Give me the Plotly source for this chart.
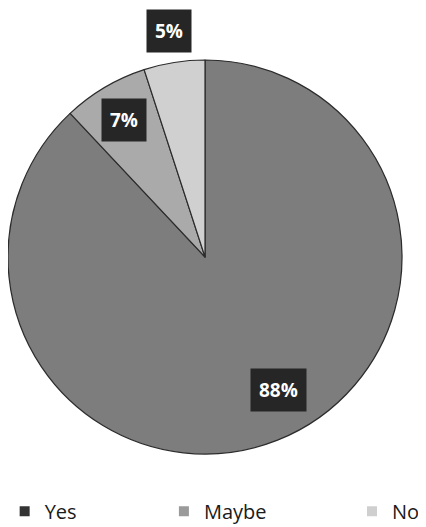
import math
import plotly.graph_objects as go

categories = ["Yes", "Maybe", "No"]
values = [88, 7, 5]
pct_labels = ["88%", "7%", "5%"]
colors = ["#7d7d7d", "#aaaaaa", "#d0d0d0"]
legend_colors = ["#333333", "#9a9a9a", "#cfcfcf"]
label_radius = [0.77, 0.81, 1.16]
label_angle_shift = [-7.2, 0.0, 0.0]   # degrees, label placement tweak
legend_x = [-0.008, 0.373, 0.823]

# page body has an 8px margin, so figure is sized to fit the 426x527 window
W, H = 418, 519
# pie domain (square in pixels): x 0..394, y 52..446 from top of figure
dom_x = [0 / W, 394 / W]
dom_y = [(H - 446) / H, (H - 52) / H]

fig = go.Figure(go.Pie(
    labels=categories,
    values=values,
    sort=False,
    direction="clockwise",
    rotation=0,
    textinfo="none",
    hoverinfo="label+percent",
    showlegend=False,
    marker=dict(colors=colors, line=dict(color="#2b2b2b", width=1.2)),
    domain=dict(x=dom_x, y=dom_y),
))

legend_font = dict(family="Open Sans, Liberation Sans, sans-serif", size=20, color="#1a1a1a")
layout_legends = {}
for i, (cat, col, lx) in enumerate(zip(categories, legend_colors, legend_x)):
    key = "legend" if i == 0 else f"legend{i + 1}"
    fig.add_trace(go.Scatter(
        x=[None], y=[None], mode="markers", name=cat,
        marker=dict(symbol="square", size=10, color=col),
        legend=key, showlegend=True, hoverinfo="skip",
    ))
    layout_legends[key] = dict(
        x=lx, xanchor="left", y=0.068, yanchor="top",
        font=legend_font, bgcolor="rgba(0,0,0,0)",
        itemwidth=30, tracegroupgap=0,
    )

cx = (dom_x[0] + dom_x[1]) / 2
cy = (dom_y[0] + dom_y[1]) / 2
rx = (dom_x[1] - dom_x[0]) / 2
ry = (dom_y[1] - dom_y[0]) / 2
total = sum(values)
cum = 0
annotations = []
for v, lab, rf, sh in zip(values, pct_labels, label_radius, label_angle_shift):
    mid = (cum + v / 2) / total * 2 * math.pi + math.radians(sh)
    cum += v
    annotations.append(dict(
        x=cx + rf * rx * math.sin(mid),
        y=cy + rf * ry * math.cos(mid),
        xref="paper", yref="paper",
        xanchor="center", yanchor="middle",
        text=f"<b>{lab}</b>", showarrow=False,
        font=dict(family="Open Sans, Liberation Sans, sans-serif", size=19, color="white"),
        bgcolor="#262626", borderpad=8,
    ))

fig.update_layout(
    width=W, height=H,
    margin=dict(l=0, r=0, t=0, b=0, autoexpand=False),
    paper_bgcolor="white",
    plot_bgcolor="white",
    annotations=annotations,
    xaxis=dict(visible=False),
    yaxis=dict(visible=False),
    **layout_legends,
)

fig.write_html("out.html")
